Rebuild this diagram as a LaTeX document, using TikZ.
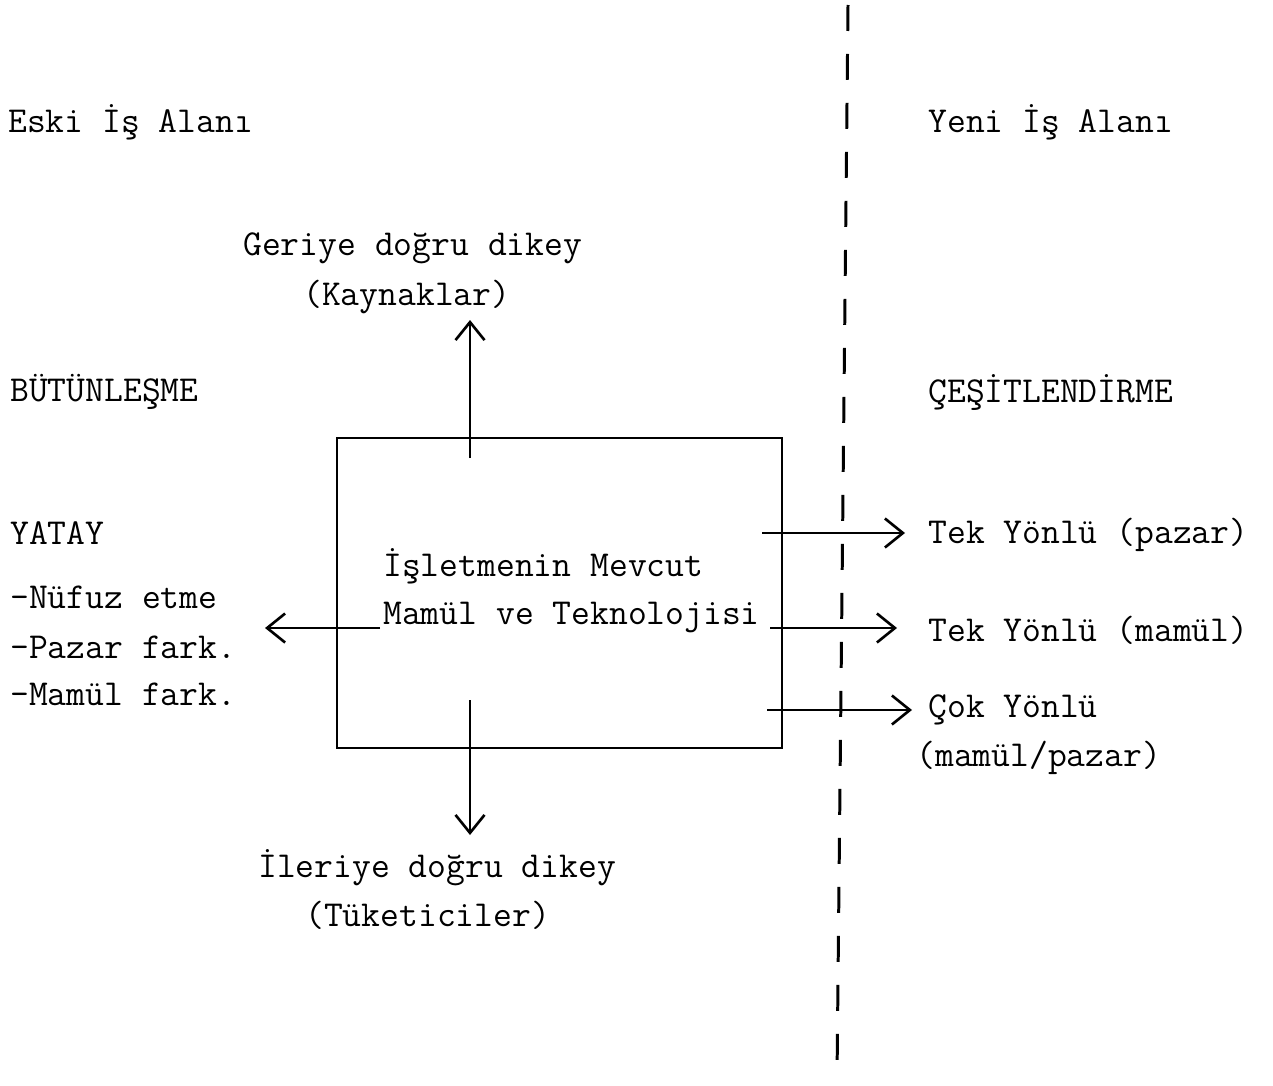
\documentclass[tikz,border=0pt]{standalone}
\usetikzlibrary{arrows.meta}
\begin{document}
\begin{tikzpicture}[x=0.02cm,y=-0.02cm,
    yazi/.style={anchor=west,inner sep=0pt,font=\ttfamily\fontsize{20.8}{24}\selectfont},
    ok/.style={-{Straight Barb[length=0.36cm,width=0.58cm,line width=1.5pt]},line width=1.3pt}]
\useasboundingbox (0,0) rectangle (1273,1085);
% eski / yeni is alani ayirimi
\coordinate (ust) at (848,5);
\coordinate (alt) at (837,1078);
\draw[line width=1.7pt,dash pattern=on 0.52cm off 0.46cm] (ust) -- (alt);
    \node[yazi] (eski) at (8,122) {Eski İş Alanı};
    \node[yazi] (yeni) at (928,122) {Yeni İş Alanı};
    \node[yazi] (butun) at (10,392) {BÜTÜNLEŞME};
    \node[yazi] (cesit) at (928,392) {ÇEŞİTLENDİRME};
% mevcut mamul kutusu
    \node[draw,line width=1.5pt,minimum width=8.9cm,minimum height=6.2cm,inner sep=0pt] (isletme) at (559.5,593) {};
    \node[yazi] (mevcut) at (383,566) {İşletmenin Mevcut};
    \node[yazi] (teknoloji) at (383,617) {Mamül ve Teknolojisi};
% dikey
    \node[yazi] (geri) at (243,248) {Geriye doğru dikey};
    \node[yazi] (kaynak) at (303,297) {(Kaynaklar)};
    \node[yazi] (ileri) at (258,868) {İleriye doğru dikey};
    \node[yazi] (tuketici) at (305,915) {(Tüketiciler)};
% yatay
    \node[yazi] (yatay) at (10,533) {YATAY};
    \node[yazi] (nufuz) at (10,597) {-Nüfuz etme};
    \node[yazi] (pazarf) at (10,647) {-Pazar fark.};
    \node[yazi] (mamulf) at (10,694) {-Mamül fark.};
% cesitlendirme
    \node[yazi] (tekpazar) at (928,535) {Tek Yönlü (pazar)};
    \node[yazi] (tekmamul) at (928,630) {Tek Yönlü (mamül)};
    \node[yazi] (cokyon) at (928,710) {Çok Yönlü};
    \node[yazi] (cokalt) at (916,758) {(mamül/pazar)};
% oklar
\coordinate (g0) at (470,458); \coordinate (g1) at (470,320);
\coordinate (i0) at (470,700); \coordinate (i1) at (470,835);
\coordinate (y0) at (380,628); \coordinate (y1) at (265,628);
\coordinate (p0) at (762,533); \coordinate (m0) at (770,628); \coordinate (c0) at (767,710);
    \draw[ok] (g0) -- (g1);
    \draw[ok] (i0) -- (i1);
    \draw[ok] (y0) -- (y1);
    \draw[ok,shorten >=0.46cm] (p0) -- (p0 -| tekpazar.west);
    \draw[ok,shorten >=0.62cm] (m0) -- (m0 -| tekmamul.west);
    \draw[ok,shorten >=0.32cm] (c0) -- (c0 -| cokyon.west);
\end{tikzpicture}
\end{document}
